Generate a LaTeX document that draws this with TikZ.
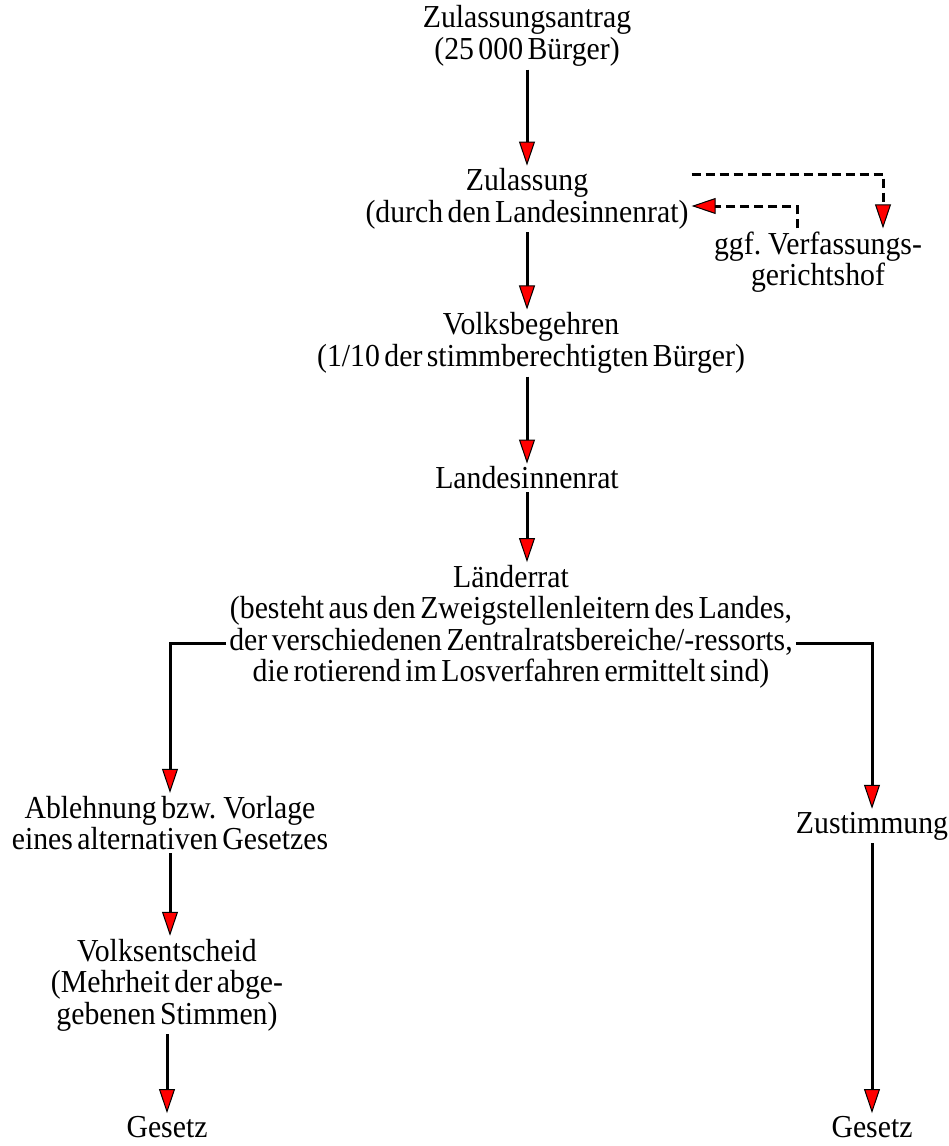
\documentclass[tikz,border=0pt]{standalone}
\usepackage{fontspec}
\setmainfont[FakeStretch=0.93]{Liberation Serif}
\usepackage{tikz}
\usetikzlibrary{arrows.meta,positioning,calc}
\newcommand{\stagefont}{\fontsize{32}{31.5}\selectfont\spaceskip=0.14em plus 0.05em minus 0.02em\relax}

\begin{document}
\begin{tikzpicture}[x=1pt,y=-1pt,
  stage/.style={align=center,inner sep=3pt,font=\stagefont},
  flow/.style={line width=3pt,-{Triangle[length=24pt,width=16pt,line width=1pt,fill=red]}},
  appeal/.style={flow,dash pattern=on 9pt off 5pt}]
 	\useasboundingbox (0,0) rectangle (949,1146);
 	\node[stage] (antrag) at (527,36) {Zulassungsantrag\\(25 000 Bürger)};
 	\node[stage] (zulassung) at (527,199) {Zulassung\\(durch den Landesinnenrat)};
 	\node[stage] (gericht) at (818,262) {ggf. Verfassungs-\\gerichtshof};
 	\node[stage] (begehren) at (531,343) {Volksbegehren\\(1/10 der stimmberechtigten Bürger)};
 	\node[stage] (innenrat) at (527,478) {Landesinnenrat};
 	\node[stage] (laenderrat) at (511,627) {Länderrat\\(besteht aus den Zweigstellenleitern des Landes,\\der verschiedenen Zentralratsbereiche/-ressorts,\\die rotierend im Losverfahren ermittelt sind)};
 	\node[stage] (ablehnung) at (170,823) {Ablehnung bzw. Vorlage\\eines alternativen Gesetzes};
 	\node[stage] (zustimmung) at (872,826) {Zustimmung};
 	\node[stage] (entscheid) at (167,985) {Volksentscheid\\(Mehrheit der abge-\\gebenen Stimmen)};
 	\node[stage] (gesetzL) at (167,1127) {Gesetz};
 	\node[stage] (gesetzR) at (872,1127) {Gesetz};
 	% main line
 	\draw[flow] (antrag) -- (zulassung);
 	\draw[flow] (zulassung) -- (zulassung |- begehren.north);
 	\draw[flow] (zulassung |- begehren.south) -- (innenrat);
 	\draw[flow] (innenrat) -- (innenrat |- laenderrat.north);
 	% court, if needed
 	\draw[appeal] ([yshift=25pt]zulassung.east) -| ([xshift=65pt]gericht.north);
 	\draw[appeal] ([xshift=-21pt]gericht.north) |- ([yshift=-7pt]zulassung.east);
 	% the two ways out of the Laenderrat
 	\draw[flow] ([yshift=-16pt]laenderrat.west) -| (ablehnung.north);
 	\draw[flow] ([yshift=-16pt]laenderrat.east) -| (zustimmung.north);
 	\draw[flow] (ablehnung) -- (ablehnung |- entscheid.north);
 	\draw[flow] (entscheid) -- (gesetzL);
 	\draw[flow] (zustimmung) -- (gesetzR);
 \end{tikzpicture}
\end{document}
